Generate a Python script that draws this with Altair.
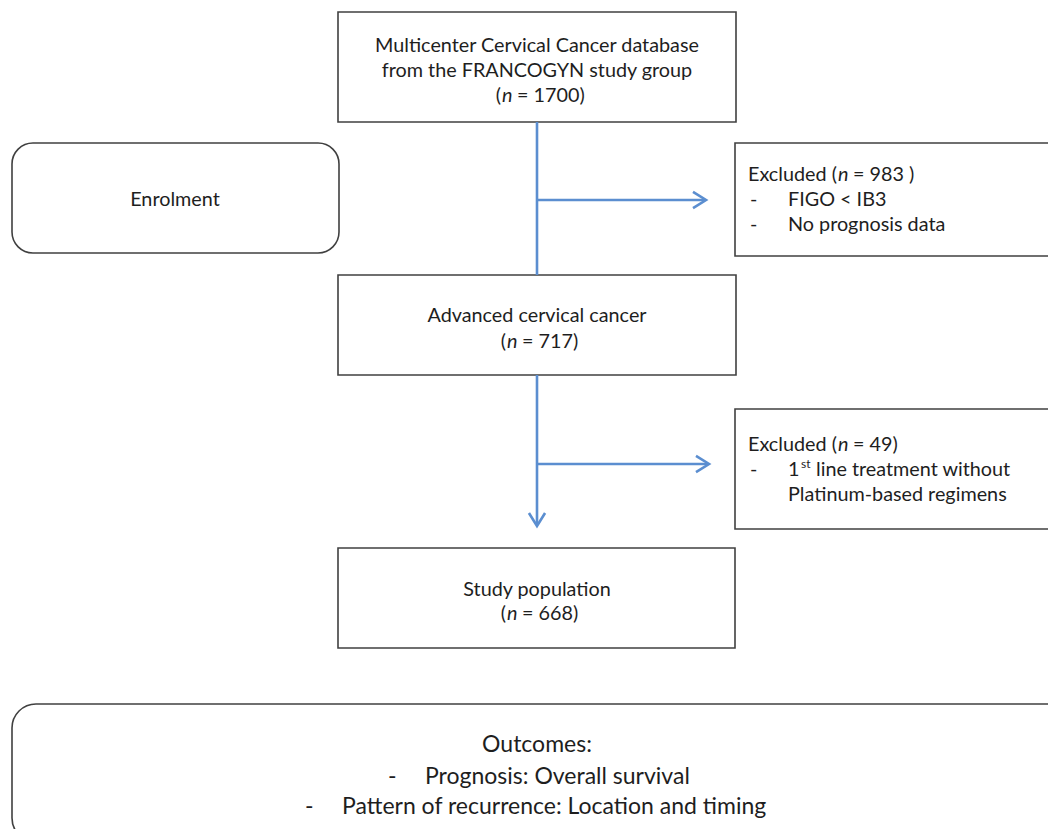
import altair as alt
import pandas as pd

# ---------- layout data (page pixel coordinates) ----------
# square boxes
box_x1 = [338, 735, 338, 735, 338]
box_x2 = [736, 1070, 736, 1070, 735]
box_y1 = [12, 143, 275, 409, 548]
box_y2 = [122, 256, 375, 529, 648]

# rounded boxes
enrol_box = dict(x=12, x2=339, y=143, y2=253)
outcome_box = dict(x=12, x2=1090, y=704, y2=842)

# blue connector segments
seg_x1 = [537, 537, 537, 537]
seg_x2 = [537, 537, 704, 707]
seg_y1 = [122, 375, 200, 464]
seg_y2 = [275, 524, 200, 464]

# arrow tips
tip_x = [706, 709]
tip_y = [200, 464]
down_tip_x = [537]
down_tip_y = [526]

# text lines
center_txt = ["Multicenter Cervical Cancer database", "from the FRANCOGYN study group",
              "Advanced cervical cancer", "Study population", "Enrolment"]
center_x = [537, 537, 537, 537, 175]
center_y = [46, 71, 316, 590, 200]

open_txt = ["(", "(", "(", "(", "("]
open_x = [501, 506, 506, 837, 837]
open_y = [96, 342, 614, 175, 445]

ital_txt = ["n", "n", "n", "n", "n"]
ital_x = [502, 507, 507, 838, 838]
ital_y = [96, 342, 614, 175, 445]

left_txt = ["= 1700)", "= 717)", "= 668)",
            "Excluded", "= 983 )", "-", "FIGO < IB3", "-", "No prognosis data",
            "Excluded", "= 49)", "-", "1", "line treatment without", "Platinum-based regimens"]
left_x = [517, 522, 522,
          748, 853, 750, 788, 750, 788,
          748, 853, 750, 788, 816, 788]
left_y = [96, 342, 614,
          175, 175, 200, 200, 225, 225,
          445, 445, 470, 470, 470, 495]

sup_txt = ["st"]
sup_x = [801]
sup_y = [464]

out_center_txt = ["Outcomes:"]
out_center_x = [537]
out_center_y = [745]
out_left_txt = ["-", "Prognosis: Overall survival", "-", "Pattern of recurrence: Location and timing"]
out_left_x = [388, 425, 305, 342]
out_left_y = [777, 777, 807, 807]

FONT = "Lato"
SIZE = 19.8
OSIZE = 23
BLUE = "#5B8ED0"
EDGE = "#404040"
TXT = "#1e1e1e"

W, H = 1040, 821
xs = alt.Scale(domain=[8, 8 + W], nice=False, zero=False)
ys = alt.Scale(domain=[8, 8 + H], nice=False, zero=False, reverse=True)
X = lambda f: alt.X(f, type="quantitative", scale=xs, axis=None)
Y = lambda f: alt.Y(f, type="quantitative", scale=ys, axis=None)

boxes = pd.DataFrame(dict(x=box_x1, x2=box_x2, y=box_y1, y2=box_y2))
enrol = pd.DataFrame([enrol_box])
outc = pd.DataFrame([outcome_box])
segs = pd.DataFrame(dict(x=seg_x1, x2=seg_x2, y=seg_y1, y2=seg_y2))
tips = pd.DataFrame(dict(x=tip_x, y=tip_y))
dtips = pd.DataFrame(dict(x=down_tip_x, y=down_tip_y))


def rects(df, radius):
    return alt.Chart(df).mark_rect(fill="white", stroke=EDGE, strokeWidth=1.6,
                                   cornerRadius=radius, clip=True).encode(
        x=X("x"), x2="x2", y=Y("y"), y2="y2")


def texts(txt, x, y, align, size, style="normal"):
    df = pd.DataFrame(dict(t=txt, x=x, y=y))
    return alt.Chart(df).mark_text(align=align, baseline="middle", font=FONT, fontSize=size,
                                   fontStyle=style, color=TXT).encode(
        x=X("x"), y=Y("y"), text="t:N")


layers = [
    rects(boxes, 0),
    rects(enrol, 21),
    rects(outc, 24),
    alt.Chart(segs).mark_rule(color=BLUE, strokeWidth=2.6).encode(
        x=X("x"), x2="x2", y=Y("y"), y2="y2"),
    alt.Chart(tips).mark_point(shape="M-1,-0.62L0,0L-1,0.62", size=676, filled=False,
                               stroke=BLUE, strokeWidth=2.6, opacity=1).encode(x=X("x"), y=Y("y")),
    alt.Chart(dtips).mark_point(shape="M-0.62,-1L0,0L0.62,-1", size=676, filled=False,
                                stroke=BLUE, strokeWidth=2.6, opacity=1).encode(x=X("x"), y=Y("y")),
    texts(center_txt, center_x, center_y, "center", SIZE),
    texts(open_txt, open_x, open_y, "right", SIZE),
    texts(ital_txt, ital_x, ital_y, "left", SIZE, "italic"),
    texts(left_txt, left_x, left_y, "left", SIZE),
    texts(sup_txt, sup_x, sup_y, "left", 12),
    texts(out_center_txt, out_center_x, out_center_y, "center", OSIZE),
    texts(out_left_txt, out_left_x, out_left_y, "left", OSIZE),
]

chart = alt.layer(*layers).properties(
    width=W, height=H, padding=0, autosize=alt.AutoSizeParams(type="none")
).configure_view(stroke=None)

chart.save("out.html", embed_options={"renderer": "svg", "actions": False})
